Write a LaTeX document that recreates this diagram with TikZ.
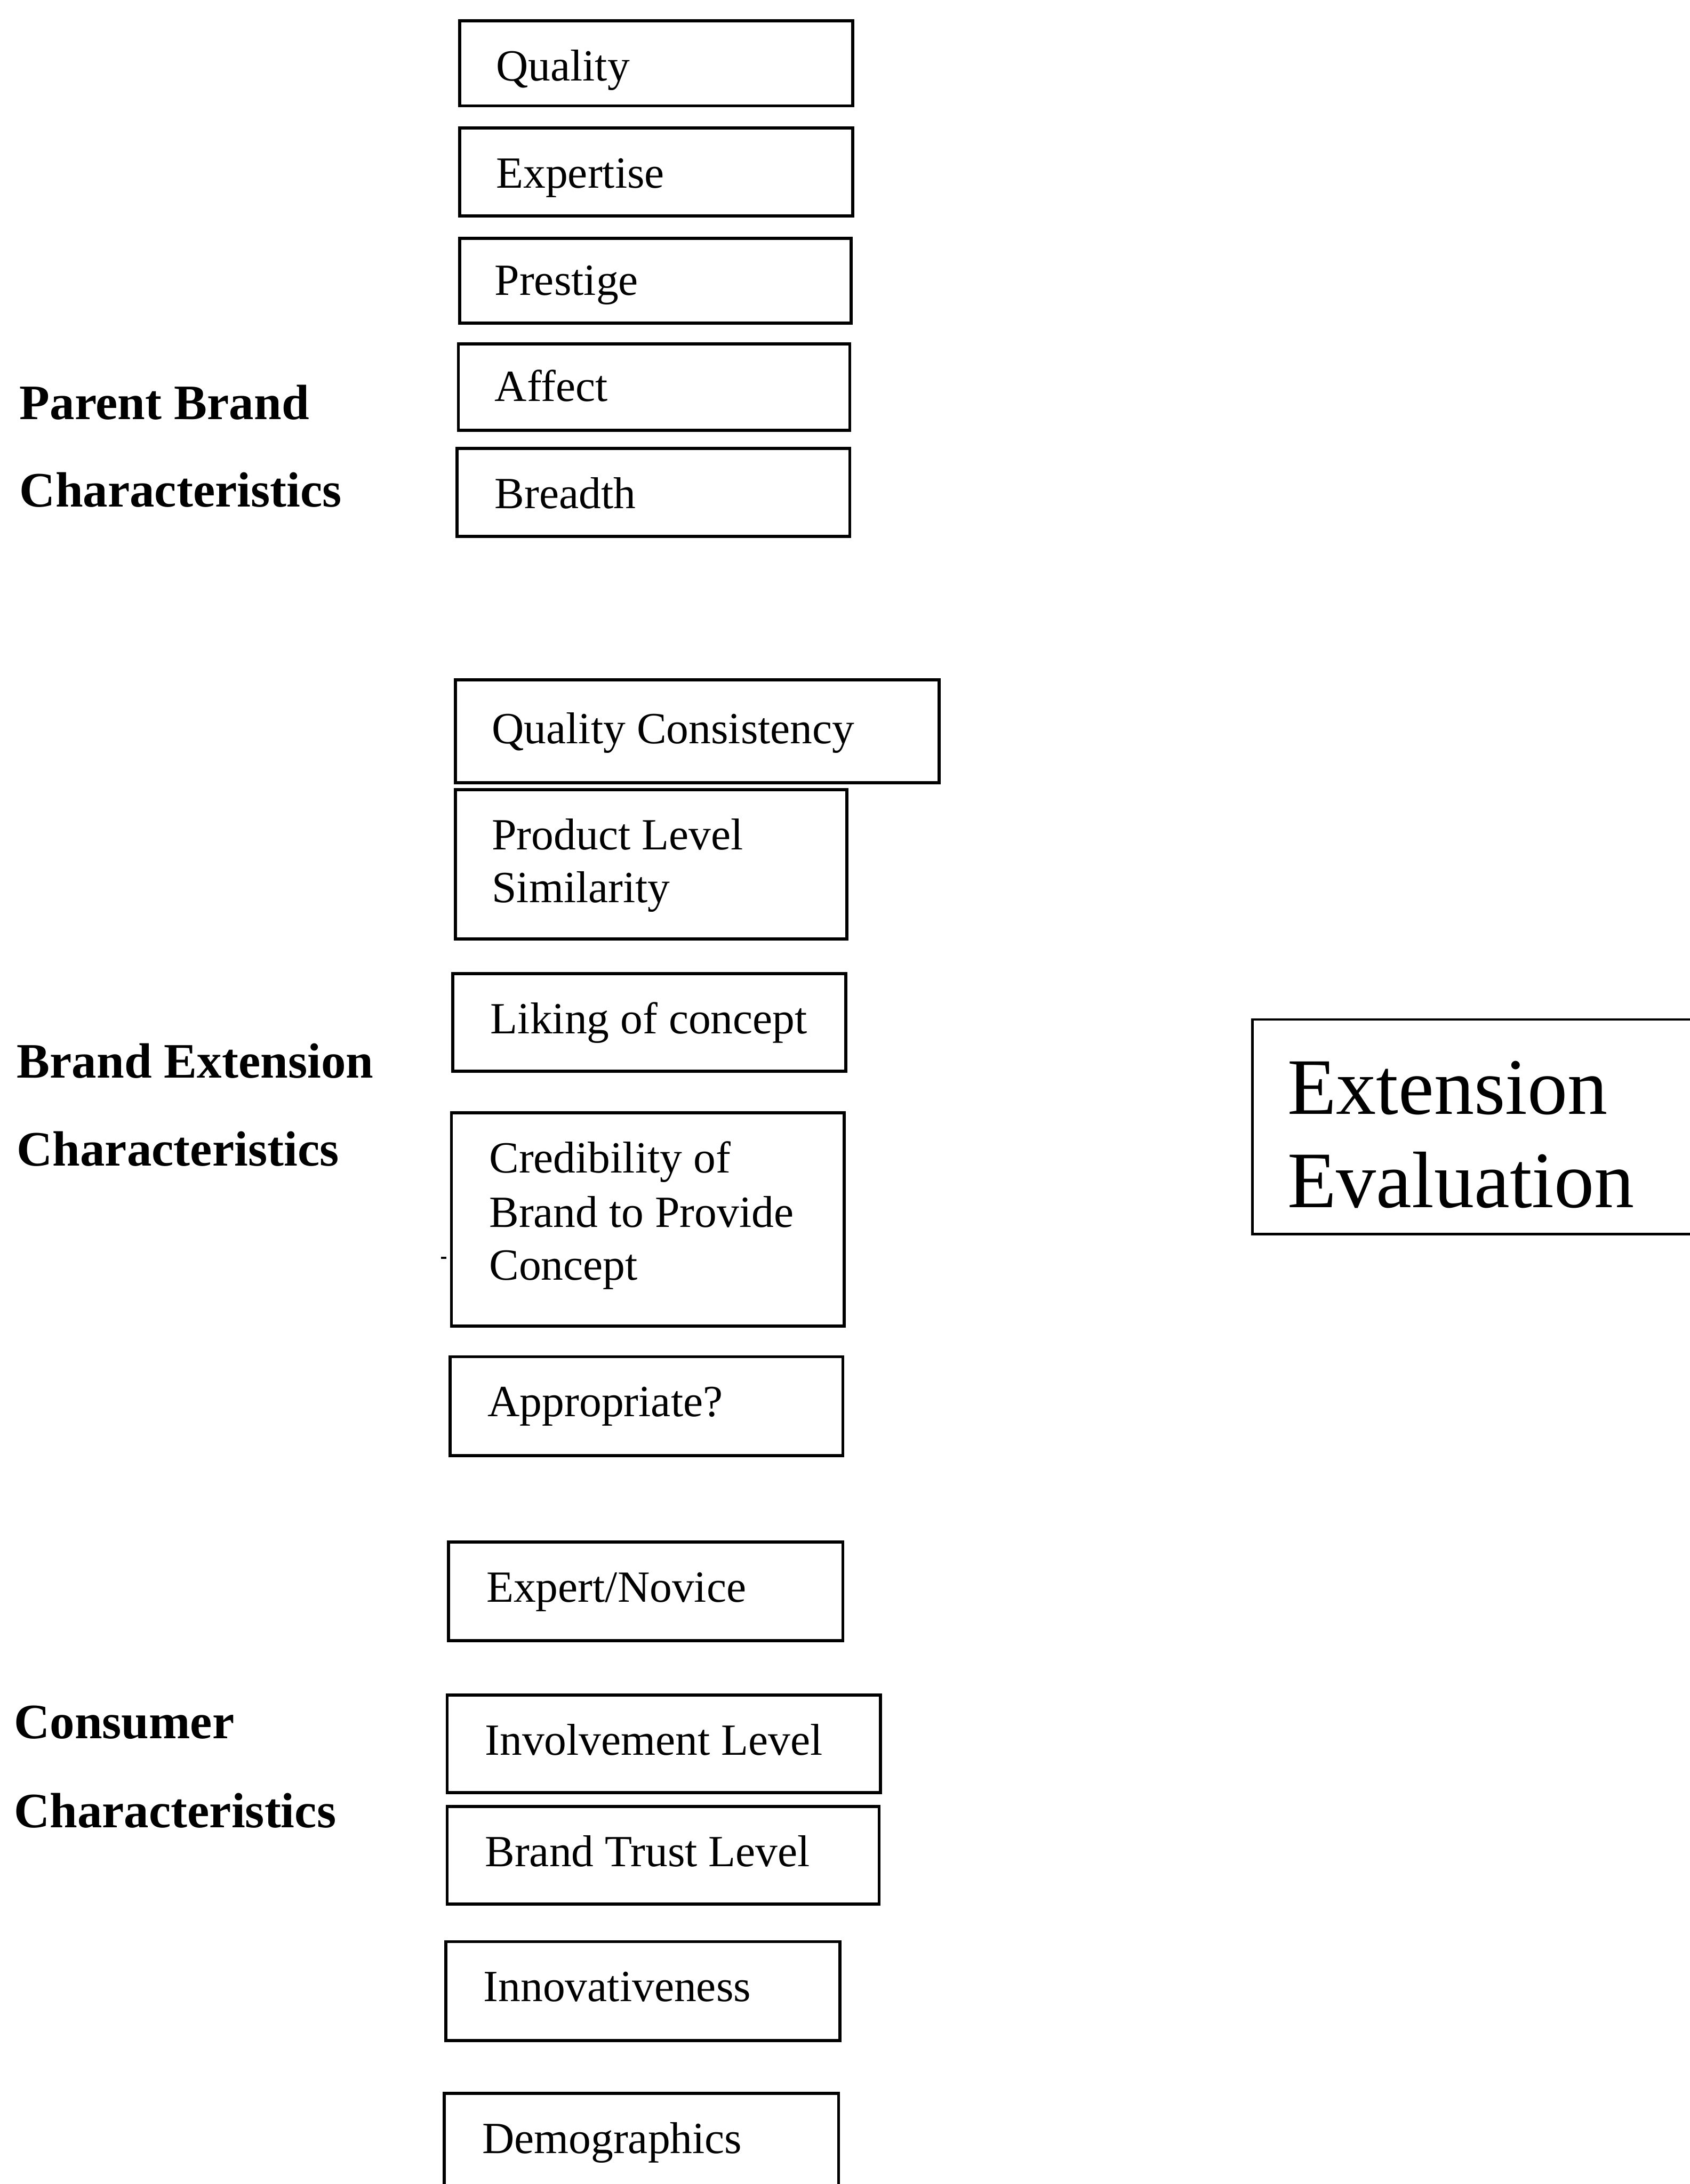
\documentclass[tikz,border=0pt]{standalone}
\usepackage{fontspec}
\setmainfont{Liberation Serif}
\def\u{0.05cm}
\tikzset{
  cell/.style={draw=black, line width=3.1pt, rectangle, inner sep=0pt, outer sep=0pt, fill=none},
  bigcell/.style={draw=black, line width=2.4pt, rectangle, inner sep=0pt, outer sep=0pt},
  lbl/.style={anchor=base west, inner sep=0pt, font=\fontsize{45.5}{50}\selectfont},
  head/.style={anchor=base west, inner sep=0pt, font=\fontsize{50.6}{56}\selectfont\bfseries},
  bighead/.style={anchor=base west, inner sep=0pt, font=\fontsize{81.8}{90}\selectfont},
}
% box from (x1,y1) to (x2,y2) in layout units, named #5
\newcommand\cellbox[5]{%
  \node[cell, minimum width={(#3-#1)*\u}, minimum height={(#4-#2)*\u}, anchor=north west] (#5) at (#1,#2) {};}
\begin{document}
\begin{tikzpicture}[x=\u, y=-\u]
\fill[white] (0,0) rectangle (1213,1568);
\useasboundingbox (0,0) rectangle (1213,1568);

% group headings
\node[head] (h-pb1) at (14,301) {Parent Brand};
\node[head] (h-pb2) at (14,364) {Characteristics};
\node[head] (h-be1) at (12,774) {Brand Extension};
\node[head] (h-be2) at (12,837) {Characteristics};
\node[head] (h-cc1) at (10,1248) {Consumer};
\node[head] (h-cc2) at (10,1312) {Characteristics};

% parent brand characteristics
\cellbox{330}{15}{612}{76}{quality}
\node[lbl] (t-quality) at (356,58) {Quality};
\cellbox{330}{92}{612}{155}{expertise}
\node[lbl] (t-expertise) at (356,135) {Expertise};
\cellbox{330}{171}{611}{232}{prestige}
\node[lbl] (t-prestige) at (355,212) {Prestige};
\cellbox{329}{247}{610}{309}{affect}
\node[lbl] (t-affect) at (355,288) {Affect};
\cellbox{328}{322}{610}{385}{breadth}
\node[lbl] (t-breadth) at (355,365) {Breadth};

% brand extension characteristics
\cellbox{327}{488}{674}{562}{qcons}
\node[lbl] (t-qcons) at (353,534) {Quality Consistency};
\cellbox{327}{567}{608}{674}{plsim}
\node[lbl] (t-plsim1) at (353,610) {Product Level};
\node[lbl] (t-plsim2) at (353,648) {Similarity};
\cellbox{325}{699}{607}{769}{liking}
\node[lbl] (t-liking) at (352,742) {Liking of concept};
\cellbox{324}{799}{606}{952}{cred}
\node[lbl] (t-cred1) at (351,842) {Credibility of};
\node[lbl] (t-cred2) at (351,881) {Brand to Provide};
\node[lbl] (t-cred3) at (351,919) {Concept};
\coordinate (tick-a) at (316.5,903);
\coordinate (tick-b) at (320.5,903);
\draw[line width=1.8pt] (tick-a) -- (tick-b);
\cellbox{323}{974}{605}{1045}{approp}
\node[lbl] (t-approp) at (350,1017) {Appropriate?};

% consumer characteristics
\cellbox{322}{1107}{605}{1178}{expnov}
\node[lbl] (t-expnov) at (349,1150) {Expert/Novice};
\cellbox{321}{1217}{632}{1287}{involv}
\node[lbl] (t-involv) at (348,1260) {Involvement Level};
\cellbox{321}{1297}{631}{1367}{trust}
\node[lbl] (t-trust) at (348,1340) {Brand Trust Level};
\cellbox{320}{1394}{603}{1465}{innov}
\node[lbl] (t-innov) at (347,1437) {Innovativeness};
\cellbox{319}{1503}{602}{1600}{demog}
\node[lbl] (t-demog) at (346,1546) {Demographics};

% outcome
\node[bigcell, minimum width={(340)*\u}, minimum height={(154)*\u}, anchor=north west] (evalbox) at (899,732) {};
\node[bighead] (t-eval1) at (924,800) {Extension};
\node[bighead] (t-eval2) at (924,867) {Evaluation};
\end{tikzpicture}
\end{document}
